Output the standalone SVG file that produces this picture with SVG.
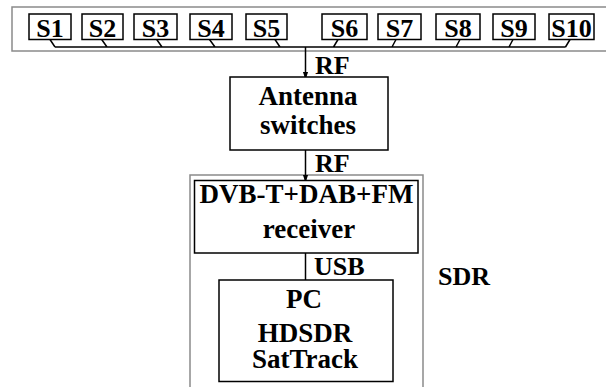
<svg xmlns="http://www.w3.org/2000/svg" width="606" height="387" viewBox="0 0 606 387">
<defs>
<style>
text{font-family:"Liberation Serif","Times New Roman",serif;font-weight:bold;fill:#000}
.s{font-size:26px;text-anchor:middle}
.t{font-size:27px;text-anchor:middle}
.l{font-size:26px}
.box{fill:#fff;stroke:#000;stroke-width:1.5}
.grp{fill:none;stroke:#8a8a8a;stroke-width:1.5}
.wire{fill:none;stroke:#000;stroke-width:1.5}
</style>
<marker id="ah" markerWidth="8" markerHeight="12" refX="8" refY="4" orient="auto" markerUnits="userSpaceOnUse" viewBox="0 0 12 8">
<path d="M0,0 L12,4 L0,8 Z" fill="#000"/>
</marker>
</defs>
<rect width="606" height="387" fill="#fff"/>
<g id="sensor-panel">
<rect class="grp" x="12" y="7" width="600" height="44"/>
</g>
<g id="sdr-group">
<rect class="grp" x="190" y="175" width="233" height="230"/>
<text class="l" x="438" y="285">SDR</text>
</g>
<g id="connectors">
<path class="wire" d="M50,39.5 L55,47 M101.7,39.5 L107,47 M156.7,39.5 L162,47 M209.5,39.5 L215,47 M275,39.5 L280,47 M338,39.5 L333.5,47 M396,39.5 L392,47 M460,39.5 L456,47 M513,39.5 L509,47 M570,39.5 L565.5,47 M55,47 L565.5,47"/>
<line class="wire" x1="305.5" y1="47" x2="305.5" y2="77" marker-end="url(#ah)"/>
<line class="wire" x1="305.5" y1="150" x2="305.5" y2="180" marker-end="url(#ah)"/>
<line class="wire" x1="305.5" y1="253" x2="305.5" y2="280"/>
<text class="l" x="315" y="74">RF</text>
<text class="l" x="315" y="172">RF</text>
<text class="l" x="314" y="275">USB</text>
</g>
<g id="S1"><rect class="box" x="29" y="14" width="42" height="25.5"/><text class="s" x="50" y="36.5">S1</text></g>
<g id="S2"><rect class="box" x="82" y="14" width="41" height="25.5"/><text class="s" x="102.5" y="36.5">S2</text></g>
<g id="S3"><rect class="box" x="134" y="14" width="43" height="25.5"/><text class="s" x="155.5" y="36.5">S3</text></g>
<g id="S4"><rect class="box" x="190" y="14" width="42" height="25.5"/><text class="s" x="211" y="36.5">S4</text></g>
<g id="S5"><rect class="box" x="246" y="14" width="41" height="25.5"/><text class="s" x="266.5" y="36.5">S5</text></g>
<g id="S6"><rect class="box" x="322" y="14" width="45" height="25.5"/><text class="s" x="344.5" y="36.5">S6</text></g>
<g id="S7"><rect class="box" x="378" y="14" width="43" height="25.5"/><text class="s" x="399.5" y="36.5">S7</text></g>
<g id="S8"><rect class="box" x="436" y="14" width="44" height="25.5"/><text class="s" x="458" y="36.5">S8</text></g>
<g id="S9"><rect class="box" x="493" y="14" width="42" height="25.5"/><text class="s" x="514" y="36.5">S9</text></g>
<g id="S10"><rect class="box" x="549" y="14" width="45" height="25.5"/><text class="s" x="571.5" y="36.5">S10</text></g>
<g id="antenna-switches">
<rect class="box" x="230" y="77" width="158" height="73"/>
<text class="t" x="308" y="105">Antenna</text>
<text class="t" x="308" y="134">switches</text>
</g>
<g id="receiver">
<rect class="box" x="194.5" y="180.5" width="223.5" height="72.5"/>
<text class="t" x="306.5" y="203">DVB-T+DAB+FM</text>
<text class="t" x="309" y="238">receiver</text>
</g>
<g id="pc">
<rect class="box" x="219" y="280" width="174" height="101.5"/>
<text class="t" x="304" y="308">PC</text>
<text class="t" x="305" y="341.5">HDSDR</text>
<text class="t" x="305" y="368">SatTrack</text>
</g>
</svg>
